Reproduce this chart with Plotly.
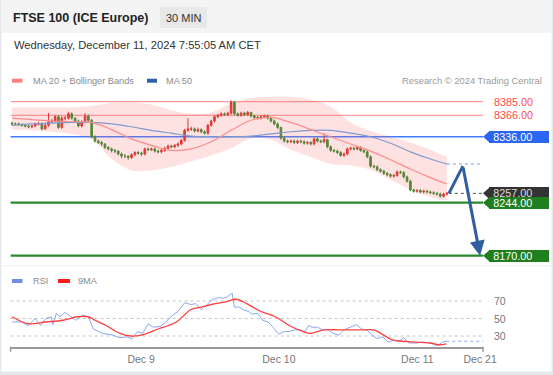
import plotly.graph_objects as go

W, H = 553, 375


def px(x):
    return x / W


def py(y):
    return 1 - y / H


# ---------------- data ----------------
candle_open = [
    8355, 8354, 8354, 8353, 8352, 8351, 8350, 8351, 8354, 8354,
    8347, 8352, 8357, 8358, 8364, 8349, 8362, 8362, 8368, 8362,
    8358, 8351, 8357, 8365, 8359, 8336, 8330, 8328, 8326, 8321,
    8319, 8317, 8316, 8312, 8309, 8309, 8307, 8311, 8314, 8313,
    8312, 8319, 8318, 8319, 8316, 8315, 8317, 8320, 8323, 8322,
    8324, 8326, 8331, 8345, 8347, 8347, 8344, 8346, 8343, 8341,
    8352, 8358, 8364, 8366, 8368, 8367, 8369, 8384, 8368, 8366,
    8369, 8367, 8370, 8365, 8363, 8362, 8364, 8365, 8362, 8358,
    8354, 8349, 8334, 8330, 8329, 8330, 8328, 8330, 8329, 8327,
    8328, 8326, 8333, 8330, 8329, 8332, 8322, 8317, 8316, 8314,
    8310, 8312, 8319, 8320, 8319, 8321, 8317, 8315, 8308, 8295,
    8294, 8290, 8288, 8285, 8283, 8281, 8282, 8287, 8286, 8280,
    8274, 8262, 8260, 8261, 8259, 8260, 8259, 8258, 8257, 8256,
    8253, 8256]
candle_high = [
    8357, 8356, 8356, 8355, 8354, 8353, 8353, 8356, 8357, 8356,
    8354, 8369, 8361, 8366, 8366, 8365, 8365, 8371, 8370, 8363,
    8360, 8359, 8369, 8367, 8361, 8338, 8332, 8330, 8327, 8323,
    8321, 8319, 8317, 8314, 8312, 8310, 8313, 8316, 8316, 8315,
    8321, 8321, 8321, 8321, 8318, 8319, 8322, 8325, 8325, 8326,
    8328, 8333, 8347, 8362, 8350, 8349, 8349, 8348, 8345, 8354,
    8360, 8366, 8368, 8370, 8370, 8371, 8387, 8386, 8370, 8371,
    8371, 8372, 8371, 8367, 8365, 8366, 8367, 8367, 8364, 8360,
    8356, 8350, 8336, 8332, 8332, 8332, 8332, 8332, 8331, 8330,
    8330, 8335, 8335, 8332, 8341, 8333, 8324, 8319, 8318, 8316,
    8314, 8321, 8322, 8322, 8323, 8323, 8319, 8317, 8310, 8297,
    8296, 8292, 8290, 8287, 8285, 8284, 8289, 8289, 8288, 8282,
    8276, 8263, 8263, 8263, 8262, 8262, 8261, 8260, 8259, 8258,
    8258, 8259]
candle_low = [
    8352, 8352, 8351, 8350, 8349, 8348, 8348, 8350, 8352, 8345,
    8346, 8350, 8355, 8356, 8347, 8347, 8359, 8360, 8360, 8356,
    8349, 8349, 8355, 8357, 8334, 8328, 8326, 8323, 8319, 8317,
    8314, 8313, 8310, 8306, 8306, 8304, 8305, 8309, 8311, 8309,
    8310, 8316, 8316, 8314, 8313, 8313, 8315, 8318, 8320, 8320,
    8322, 8324, 8329, 8343, 8344, 8342, 8342, 8341, 8339, 8339,
    8350, 8356, 8362, 8364, 8365, 8365, 8367, 8366, 8364, 8364,
    8365, 8365, 8363, 8361, 8360, 8360, 8362, 8360, 8356, 8352,
    8347, 8332, 8328, 8327, 8327, 8326, 8326, 8327, 8325, 8325,
    8324, 8324, 8328, 8327, 8327, 8320, 8315, 8314, 8312, 8308,
    8308, 8310, 8317, 8317, 8317, 8315, 8313, 8306, 8293, 8292,
    8288, 8286, 8283, 8281, 8279, 8279, 8280, 8284, 8278, 8272,
    8260, 8258, 8258, 8257, 8257, 8257, 8256, 8255, 8254, 8251,
    8251, 8254]
candle_close = [
    8354, 8354, 8353, 8352, 8351, 8350, 8351, 8354, 8354, 8347,
    8352, 8357, 8358, 8364, 8349, 8362, 8362, 8368, 8362, 8358,
    8351, 8357, 8365, 8359, 8336, 8330, 8328, 8326, 8321, 8319,
    8317, 8316, 8312, 8309, 8309, 8307, 8311, 8314, 8313, 8312,
    8319, 8318, 8319, 8316, 8315, 8317, 8320, 8323, 8322, 8324,
    8326, 8331, 8345, 8347, 8347, 8344, 8346, 8343, 8341, 8352,
    8358, 8364, 8366, 8368, 8367, 8369, 8384, 8368, 8366, 8369,
    8367, 8370, 8365, 8363, 8362, 8364, 8365, 8362, 8358, 8354,
    8349, 8334, 8330, 8329, 8330, 8328, 8330, 8329, 8327, 8328,
    8326, 8333, 8330, 8329, 8332, 8322, 8317, 8316, 8314, 8310,
    8312, 8319, 8320, 8319, 8321, 8317, 8315, 8308, 8295, 8294,
    8290, 8288, 8285, 8283, 8281, 8282, 8287, 8286, 8280, 8274,
    8262, 8260, 8261, 8259, 8260, 8259, 8258, 8257, 8256, 8253,
    8256, 8257]

# indicator samples (candle index positions)
ma_idx = [0, 6, 12, 18, 24, 30, 36, 42, 48, 54, 60, 66, 72, 78, 84, 90, 96,
          102, 108, 114, 120, 126, 131]
ma20 = [8362, 8360, 8358, 8357, 8356, 8346, 8333, 8324, 8317, 8319, 8329, 8345,
        8359, 8363, 8356, 8346, 8336, 8326, 8316, 8304, 8291, 8279, 8270]
ma50 = [8352, 8354, 8355, 8356, 8356, 8354, 8350, 8345, 8341, 8337, 8336, 8336,
        8337, 8340, 8343, 8345, 8345, 8341, 8336, 8327, 8315, 8305, 8298]
bb_upper = [8377, 8377, 8377, 8377, 8379, 8383, 8384, 8381, 8373, 8368, 8370, 8382,
            8390, 8392, 8392, 8388, 8378, 8356, 8344, 8336, 8328, 8318, 8308]
bb_lower = [8346, 8345, 8343, 8340, 8333, 8305, 8289, 8289, 8294, 8302, 8310, 8320,
            8334, 8332, 8318, 8308, 8298, 8296, 8290, 8276, 8262, 8252, 8247]

rsi_idx = [0, 2.8, 4.9, 7, 8.6, 10.2, 11.8, 12.3, 13.4, 14.4, 16, 17.6, 19.2, 21.3, 23,
           24.5, 27.2, 30.4, 32.5, 34.6, 36.2, 37.8, 39.4, 41, 42.6, 44.7, 46.3, 48.4,
           50, 52, 53.8, 55.4, 57, 58.5, 60.1, 62.3, 63.8, 64.9, 66.3, 67, 68.6, 69.7,
           71.3, 72.3, 74, 75.5, 77.1, 78.7, 80.3, 81.9, 83.5, 85.1, 86.7, 88.3, 89.3,
           90.4, 92, 93.6, 95.2, 96.8, 98.4, 100, 102.1, 103.7, 105.3, 106.9, 108.4,
           110, 111.7, 113.3, 114.8, 116.4, 118, 119.6, 121.7, 123.9, 126, 128.1,
           129.7, 130.8]
rsi_val = [46, 46, 42, 50, 42, 50, 52, 43, 56, 52, 57, 52, 48, 54, 52,
           38, 33, 31, 28, 29, 27, 35, 33, 44, 40, 41, 46, 54,
           58, 68, 66, 67, 60, 65, 71, 74, 73, 75, 79, 63, 63, 60,
           58, 55, 56, 48, 46, 40, 32, 35, 35, 37, 37, 35, 42,
           40, 40, 37, 37, 33, 31, 37, 40, 43, 38, 37, 31,
           27, 29, 23, 25, 24, 28, 22, 22, 23, 22, 19,
           23, 24]
ma9_idx = [0, 4.9, 10.2, 15.4, 19.6, 23, 25, 28.3, 32.5, 35.7, 38.9, 44, 49.5, 53.8,
           57, 60, 64.4, 67.4, 70.7, 75, 79.3, 83.5, 87.7, 89.9, 94, 98.4, 101.6,
           105.9, 109, 111.1, 114.3, 117.5, 121.7, 126, 128.6, 130.8]
ma9_val = [52, 44, 46, 48, 52, 52, 48, 42, 33, 30, 31, 38, 46, 60,
           63, 66, 69, 72, 67, 58, 52, 42, 35, 33, 37, 37, 37,
           37, 37, 33, 26, 24, 23, 22, 20, 21]

resistance_levels = [8385, 8366]
pivot_level = 8336
support_levels = [8244, 8170]
last_price = candle_close[-1]

forecast_idx = [131.6, 135.8, 141.0]
forecast_price = [8257, 8295, 8170]

tick_idx = [38.9, 80.4, 122.1, 141.0]
tick_labels = ["Dec 9", "Dec 10", "Dec 11", "Dec 21"]
rsi_levels = [70, 50, 30]

# ---------------- layout geometry ----------------
X_L, X_R = 10.6, 483
P_TOP, P_BOT = 93, 262
R_TOP, R_BOT = 288, 346.7
x_range = [-0.42, 141.87]
price_range = [8161.2, 8397.1]
rsi_range = [17.77, 84.86]

FONT = "Liberation Sans, Arial, sans-serif"
RED_C = "#d9302c"
GREEN_C = "#2e8b2e"

idx = list(range(len(candle_close)))
fig = go.Figure()

fig.add_trace(go.Scatter(x=ma_idx, y=bb_upper, mode="lines",
                         line=dict(width=0, shape="spline", color="rgba(0,0,0,0)"),
                         hoverinfo="skip", showlegend=False))
fig.add_trace(go.Scatter(x=ma_idx, y=bb_lower, mode="lines",
                         line=dict(width=0, shape="spline", color="rgba(0,0,0,0)"),
                         fill="tonexty", fillcolor="rgba(250,110,110,0.20)",
                         hoverinfo="skip", showlegend=False))
fig.add_trace(go.Scatter(x=ma_idx, y=ma50, mode="lines",
                         line=dict(width=1.2, shape="spline", color="#7d9bd0"),
                         showlegend=False))
fig.add_trace(go.Scatter(x=[ma_idx[-1], x_range[1]], y=[ma50[-1], ma50[-1]], mode="lines",
                         line=dict(width=1, color="#7d9bd0", dash="dot"),
                         showlegend=False))
fig.add_trace(go.Scatter(x=ma_idx, y=ma20, mode="lines",
                         line=dict(width=1.2, shape="spline", color="#ff8c8c"),
                         showlegend=False))
fig.add_trace(go.Scatter(x=[forecast_idx[0], x_range[1]], y=[last_price, last_price],
                         mode="lines", line=dict(width=1, color="#555555", dash="dot"),
                         showlegend=False))
fig.add_trace(go.Candlestick(
    x=idx, open=candle_open, high=candle_high, low=candle_low, close=candle_close,
    increasing=dict(line=dict(color=RED_C, width=1), fillcolor=RED_C),
    decreasing=dict(line=dict(color=GREEN_C, width=1), fillcolor=GREEN_C),
    whiskerwidth=0, showlegend=False, xaxis="x", yaxis="y"))
fig.add_trace(go.Scatter(x=forecast_idx[:2], y=forecast_price[:2], mode="lines",
                         line=dict(width=3, color="#2f5f9e"), showlegend=False))

fig.add_trace(go.Scatter(x=rsi_idx, y=rsi_val, mode="lines",
                         line=dict(width=1, color="#8aa8f0"),
                         xaxis="x2", yaxis="y2", showlegend=False))
fig.add_trace(go.Scatter(x=[rsi_idx[-1], x_range[1]], y=[rsi_val[-1], rsi_val[-1]],
                         mode="lines", line=dict(width=1, color="#8aa8f0", dash="dot"),
                         xaxis="x2", yaxis="y2", showlegend=False))
fig.add_trace(go.Scatter(x=ma9_idx, y=ma9_val, mode="lines",
                         line=dict(width=1.3, color="#ff4040", shape="spline"),
                         xaxis="x2", yaxis="y2", showlegend=False))

shapes = []
shapes.append(dict(type="rect", xref="paper", yref="paper", x0=px(1.5), x1=px(551.5),
                   y0=py(371.5), y1=py(0), fillcolor="#ffffff", line=dict(width=0),
                   layer="below"))
shapes.append(dict(type="rect", xref="paper", yref="paper", x0=px(1.5), x1=px(551.5),
                   y0=py(33), y1=py(0), fillcolor="#f4f4f4", line=dict(width=0),
                   layer="below"))
shapes.append(dict(type="rect", xref="paper", yref="paper", x0=px(160), x1=px(207),
                   y0=py(28), y1=py(7), fillcolor="#e8e8e8", line=dict(width=0),
                   layer="below"))
shapes.append(dict(type="line", xref="paper", yref="paper", x0=px(1.5), x1=px(551.5),
                   y0=py(265.7), y1=py(265.7), line=dict(color="#eeeeee", width=1),
                   layer="below"))

for lv in resistance_levels:
    shapes.append(dict(type="line", xref="paper", yref="y", x0=px(X_L), x1=px(X_R),
                       y0=lv, y1=lv, line=dict(color="#ff9a9a", width=1.3), layer="below"))
shapes.append(dict(type="line", xref="paper", yref="y", x0=px(X_L), x1=px(X_R),
                   y0=pivot_level, y1=pivot_level, line=dict(color="#3f7bff", width=1.6),
                   layer="below"))
for lv in support_levels:
    shapes.append(dict(type="line", xref="paper", yref="y", x0=px(X_L), x1=px(X_R),
                       y0=lv, y1=lv, line=dict(color="#2b8a2b", width=2.2), layer="below"))

tip_path = "M0,0 L6.5,5.8 L6.5,-5.8 Z"
box_levels = [(pivot_level, "#2a66f0", "#ffffff"), (last_price, "#333333", "#dddddd"),
              (support_levels[0], "#1f7f1f", "#ffffff"),
              (support_levels[1], "#1f7f1f", "#ffffff")]
for lv, col, _ in box_levels:
    shapes.append(dict(type="path", xref="paper", yref="y", xsizemode="pixel",
                       ysizemode="pixel", xanchor=px(X_R), yanchor=lv, path=tip_path,
                       fillcolor=col, line=dict(width=0), layer="above"))

for lv in rsi_levels:
    shapes.append(dict(type="line", xref="paper", yref="y2", x0=px(X_L), x1=px(X_R),
                       y0=lv, y1=lv, line=dict(color="#c4c4c4", width=1, dash="dot"),
                       layer="below"))
for xe in (X_L, X_R):
    shapes.append(dict(type="line", xref="paper", yref="paper", x0=px(xe), x1=px(xe),
                       y0=py(R_BOT), y1=py(R_BOT + 5), line=dict(color="#999999", width=1.5)))

for (x0, x1, y, col) in [(12, 22.5, 80.7, "#ff8080"), (147, 157, 80.7, "#2f5fa8"),
                         (12, 22.5, 281, "#6f8fe8"), (58, 70, 281, "#ff1a1a")]:
    shapes.append(dict(type="rect", xref="paper", yref="paper", x0=px(x0), x1=px(x1),
                       y0=py(y + 2), y1=py(y - 2), fillcolor=col, line=dict(width=0)))

annotations = []


def txt(x, y, s, size, color, anchor="left", bold=False):
    annotations.append(dict(xref="paper", yref="paper", x=px(x), y=py(y),
                            text=("<b>%s</b>" % s) if bold else s, showarrow=False,
                            xanchor=anchor, yanchor="middle",
                            font=dict(size=size, color=color, family=FONT)))


txt(10.7, 18.3, "FTSE 100 (ICE Europe)", 12.5, "#222222", bold=True)
txt(183.5, 17.8, "30 MIN", 11, "#333333", anchor="center")
txt(12.3, 45, "Wednesday, December 11, 2024 7:55:05 AM CET", 11.2, "#333333")
txt(31, 80.7, "MA 20 + Bollinger Bands", 9.2, "#8a8a8a")
txt(164, 80.7, "MA 50", 9.2, "#8a8a8a")
txt(544, 80.7, "Research \u00a9 2024 Trading Central", 9.4, "#9a9a9a", anchor="right")
txt(31, 281, "RSI", 9.2, "#8a8a8a")
txt(76, 281, "9MA", 9.2, "#8a8a8a")

for lv in resistance_levels:
    annotations.append(dict(xref="paper", yref="y", x=px(491.5), y=lv, text="%.2f" % lv,
                            showarrow=False, xanchor="left", yanchor="middle",
                            font=dict(size=10.8, color="#ff4a4a", family=FONT)))
for lv, col, fc in box_levels:
    annotations.append(dict(xref="paper", yref="y", x=px(489), y=lv,
                            text="\u2009\u2009%.2f" % lv, showarrow=False,
                            xanchor="left", yanchor="middle", align="left",
                            width=60, height=11.6, borderpad=0, borderwidth=0,
                            bgcolor=col,
                            font=dict(size=10.8, color=fc, family=FONT)))
for lv in rsi_levels:
    annotations.append(dict(xref="paper", yref="y2", x=px(492), y=lv, text=str(lv),
                            showarrow=False, xanchor="left", yanchor="middle",
                            font=dict(size=10.5, color="#777777", family=FONT)))
annotations.append(dict(xref="x", yref="y", axref="x", ayref="y",
                        x=forecast_idx[2], y=forecast_price[2],
                        ax=forecast_idx[1], ay=forecast_price[1], text="",
                        showarrow=True, arrowhead=2, arrowsize=1, arrowwidth=3,
                        arrowcolor="#2f5f9e", standoff=0))

fig.update_layout(
    width=W, height=H, autosize=False,
    margin=dict(l=0, r=0, t=0, b=0, pad=0, autoexpand=False),
    paper_bgcolor="#e6e9ec", plot_bgcolor="rgba(0,0,0,0)",
    showlegend=False, hovermode=False,
    font=dict(family=FONT),
    xaxis=dict(domain=[px(X_L), px(X_R)], range=x_range, visible=False,
               rangeslider=dict(visible=False), anchor="y", fixedrange=True,
               automargin=False),
    yaxis=dict(domain=[py(P_BOT), py(P_TOP)], range=price_range, visible=False,
               anchor="x", fixedrange=True, automargin=False),
    xaxis2=dict(domain=[px(X_L), px(X_R)], range=x_range, anchor="y2",
                showline=True, linecolor="#999999", linewidth=1.5,
                showgrid=False, zeroline=False, fixedrange=True, automargin=False,
                tickmode="array", tickvals=tick_idx, ticktext=tick_labels,
                ticks="outside", ticklen=2, tickcolor="rgba(0,0,0,0)",
                tickfont=dict(size=10.5, color="#777777", family=FONT)),
    yaxis2=dict(domain=[py(R_BOT), py(R_TOP)], range=rsi_range, visible=False,
                anchor="x2", fixedrange=True, automargin=False),
    shapes=shapes,
    annotations=annotations,
)

post_js = (
    "document.documentElement.style.margin='0';"
    "document.documentElement.style.overflow='hidden';"
    "document.body.style.margin='0';document.body.style.overflow='hidden';"
    "document.body.style.background='#e6e9ec';"
)
fig.write_html(
    "out.html",
    config={"displayModeBar": False},
    post_script=post_js,
)
